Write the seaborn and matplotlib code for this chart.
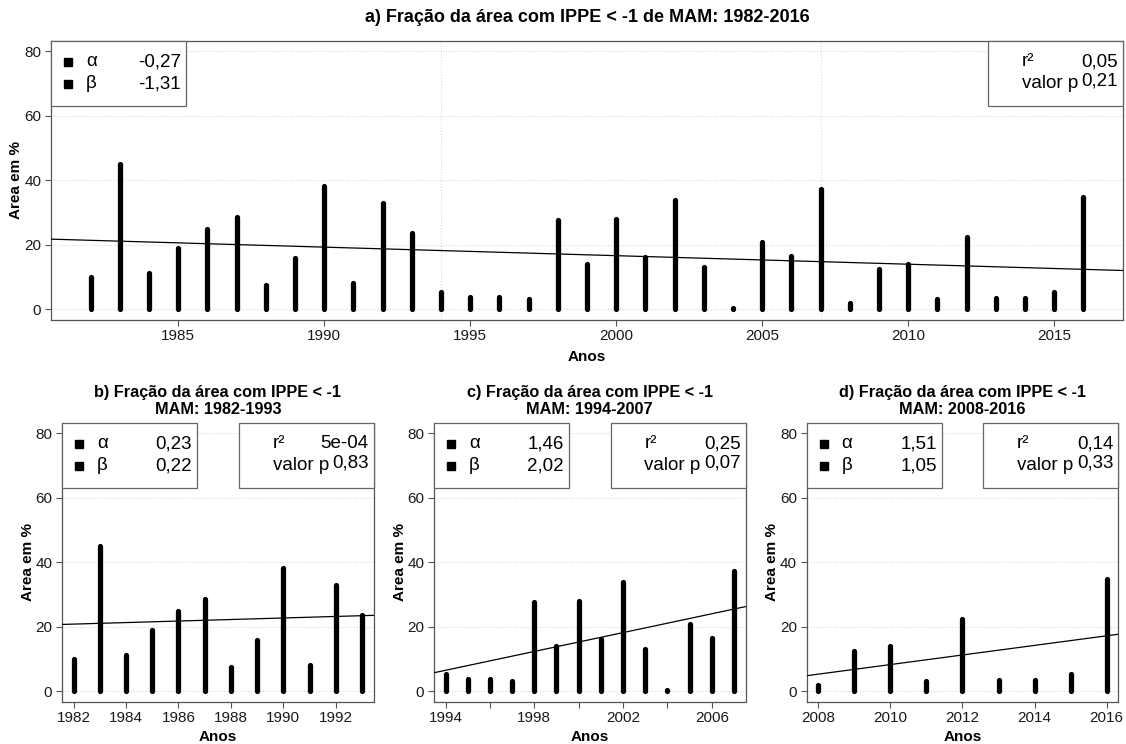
import numpy as np
import pandas as pd
import seaborn as sns
import matplotlib.pyplot as plt
from matplotlib.patches import Rectangle

# Fraction of area with IPPE < -1, MAM season
years = [1982, 1983, 1984, 1985, 1986, 1987, 1988, 1989, 1990, 1991, 1992, 1993,
         1994, 1995, 1996, 1997, 1998, 1999, 2000, 2001, 2002, 2003, 2004, 2005,
         2006, 2007, 2008, 2009, 2010, 2011, 2012, 2013, 2014, 2015, 2016]
area = [9.9, 45.1, 11.4, 19.1, 24.9, 28.7, 7.4, 16.0, 38.2, 8.3, 32.9, 23.7,
        5.3, 3.9, 3.8, 3.3, 27.7, 14.0, 27.9, 16.2, 33.8, 13.1, 0.3, 20.8,
        16.6, 37.4, 2.1, 12.5, 14.0, 3.1, 22.4, 3.6, 3.4, 5.5, 34.8]

# sub periods
period_start = [1982, 1994, 2008]
period_end = [1993, 2007, 2016]
breaks = [1994, 2007]

# statistics shown in the boxes (a, b, c, d)
panel_letters = ["a", "b", "c", "d"]
alpha_txt = ["-0,27", "0,23", "1,46", "1,51"]
beta_txt = ["-1,31", "0,22", "2,02", "1,05"]
r2_txt = ["0,05", "5e-04", "0,25", "0,14"]
pval_txt = ["0,21", "0,83", "0,07", "0,33"]

# x ticks
top_ticks = [1985, 1990, 1995, 2000, 2005, 2010, 2015]
sub_ticks = [[1982, 1984, 1986, 1988, 1990, 1992],
             [1994, 1996, 1998, 2000, 2002, 2004, 2006],
             [2008, 2010, 2012, 2014, 2016]]
sub_tick_labels = [["1982", "1984", "1986", "1988", "1990", "1992"],
                   ["1994", "", "1998", "", "2002", "", "2006"],
                   ["2008", "2010", "2012", "2014", "2016"]]

df = pd.DataFrame({"ano": years, "area": area})

sns.set_theme(style="white")
plt.rcParams['font.family'] = ['Liberation Sans', 'DejaVu Sans']
plt.rcParams['text.color'] = 'black'
plt.rcParams['axes.labelcolor'] = 'black'

SPINE = '#555555'
BOX_FS = 13.5


def stat_boxes(ax, i, bw_px=135, bh_px=65):
    w = ax.bbox.width
    h = ax.bbox.height
    bw, bh = bw_px / w, bh_px / h
    for x0 in (0, 1 - bw):
        ax.add_patch(Rectangle((x0, 1 - bh), bw, bh, transform=ax.transAxes,
                               facecolor='white', edgecolor='#666666', lw=0.9,
                               zorder=5, clip_on=False))
    rows = [1 - 21 / h, 1 - 43 / h]
    for y, sym, val in zip(rows, ["α", "β"], [alpha_txt[i], beta_txt[i]]):
        ax.plot(17 / w, y, marker='s', ms=5.5, color='black', transform=ax.transAxes,
                zorder=6, clip_on=False)
        ax.text(35 / w, y, sym, ha='left', va='center', fontsize=BOX_FS,
                transform=ax.transAxes, zorder=6)
        ax.text(bw - 5 / w, y, val, ha='right', va='center', fontsize=BOX_FS,
                transform=ax.transAxes, zorder=6)
    xl = 1 - bw + 34 / w
    ax.text(xl, rows[0], "r²", ha='left', va='center', fontsize=BOX_FS,
            transform=ax.transAxes, zorder=6)
    ax.text(1 - 5 / w, rows[0], r2_txt[i], ha='right', va='center', fontsize=BOX_FS,
            transform=ax.transAxes, zorder=6)
    ax.text(xl, rows[1], "valor p", ha='left', va='center', fontsize=BOX_FS,
            transform=ax.transAxes, zorder=6)
    ax.text(1 - 5 / w, rows[1] + 3 / h, pval_txt[i], ha='right', va='center',
            fontsize=BOX_FS, transform=ax.transAxes, zorder=6)


def draw_panel(ax, data, i, title, xticks, xticklabels, full_box):
    x0, x1 = data["ano"].min(), data["ano"].max()
    pad = 0.04 * (x1 - x0)
    ax.set_xlim(x0 - pad, x1 + pad)
    ax.set_ylim(-3.2, 83.2)

    ax.set_yticks([0, 20, 40, 60, 80])
    ax.grid(axis='y', color='#d9d9d9', linestyle=':', lw=0.8)
    ax.set_axisbelow(True)

    # vertical "bars" (type = 'h')
    ax.vlines(data["ano"], 0, data["area"], colors='black', lw=3.8,
              capstyle='round', zorder=3)

    # linear trend
    sns.regplot(data=data, x="ano", y="area", ax=ax, scatter=False, ci=None,
                truncate=False, color='black', line_kws={'lw': 0.9, 'zorder': 4})
    ax.set_xlim(x0 - pad, x1 + pad)
    ax.set_ylim(-3.2, 83.2)

    ax.set_xticks(xticks)
    ax.set_xticklabels(xticklabels)
    ax.tick_params(axis='both', direction='out', length=4, width=0.8, color=SPINE,
                   labelsize=11, labelcolor='#1a1a1a', pad=3, bottom=True, left=True)
    for side, sp in ax.spines.items():
        sp.set_color(SPINE)
        sp.set_linewidth(0.9)
    if not full_box:
        ax.spines['top'].set_visible(False)

    ax.set_xlabel("Anos", fontsize=11, fontweight='bold',
                  labelpad=5 if full_box else 3)
    ax.set_ylabel("Area em %", fontsize=11, fontweight='bold',
                  labelpad=1 if full_box else 0.5)
    if full_box:
        ax.set_title(title, fontsize=13, fontweight='bold', pad=14, color='black')
    else:
        ax.set_title(title, fontsize=11.7, fontweight='bold', pad=6,
                     linespacing=1.2, color='black')
    stat_boxes(ax, i)


fig = plt.figure(figsize=(11.26, 7.44), dpi=100)

W, H = 1126, 744
ax_top = fig.add_axes([51 / W, (H - 319.6) / H, 1072 / W, 278.6 / H])
for b in breaks:
    ax_top.axvline(b, color='#d9d9d9', linestyle=':', lw=0.8, zorder=0)
draw_panel(ax_top, df, 0, "a) Fração da área com IPPE < -1 de MAM: 1982-2016",
           top_ticks, [str(t) for t in top_ticks], True)

lefts = [62, 434, 806.7]
for k in range(3):
    ax = fig.add_axes([lefts[k] / W, (H - 701.7) / H, 311.5 / W, 279 / H])
    sub = df[(df["ano"] >= period_start[k]) & (df["ano"] <= period_end[k])]
    title = (f"{panel_letters[k + 1]}) Fração da área com IPPE < -1\n"
             f"MAM: {period_start[k]}-{period_end[k]}")
    draw_panel(ax, sub, k + 1, title, sub_ticks[k], sub_tick_labels[k], False)

fig.savefig("out.png", dpi=100, facecolor='white')
